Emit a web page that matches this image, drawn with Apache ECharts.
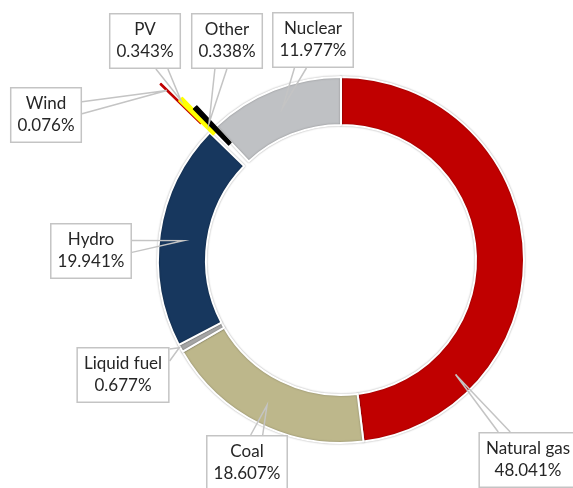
<!DOCTYPE html>
<html>
<head>
<meta charset="utf-8">
<script src="https://cdn.jsdelivr.net/npm/echarts@6/dist/echarts.min.js"></script>
<style>
html, body { margin: 0; padding: 0; background: #fff; }
#main { width: 573px; height: 488px; }
</style>
</head>
<body>
<div id="main"></div>
<script>
// share of generation by source (%), clockwise from 12 o'clock
var sources = ['Natural gas', 'Coal', 'Liquid fuel', 'Hydro', 'Wind', 'PV', 'Other', 'Nuclear']
var shares = [48.041, 18.607, 0.677, 19.941, 0.076, 0.343, 0.338, 11.977]
var colors = ['#c00000', '#bdb78b', '#a6a6a6', '#17375e', '#c00000', '#ffff00', '#000000', '#bfc1c4']

// tiny slices drawn pulled out of the ring, with their own radii
var pulled = {
    'Wind': [196, 252],
    'PV': [179, 227],
    'Other': [161, 211]
}

var CX = 341, CY = 260
var NONE = 'rgba(0,0,0,0)'
// callout box centre, pointer tip angle (deg clockwise from top) and tip radius
var callouts = {
    'Natural gas': [528, 460, 135, 162],
    'Coal': [247, 463, 207, 163],
    'Liquid fuel': [123, 375, 241.5, 184],
    'Hydro': [91, 251, 277, 159],
    'Wind': [46, 115, 314.2, 243],
    'PV': [145, 41, 314.9, 226],
    'Other': [227, 41, 316, 190],
    'Nuclear': [313, 40, 339, 163]
}

function calloutLine(name, w, h) {
    var c = callouts[name]
    var a = c[2] * Math.PI / 180
    var tip = [CX + c[3] * Math.sin(a), CY - c[3] * Math.cos(a)]
    var dx = tip[0] - c[0], dy = tip[1] - c[1]
    var l = c[0] - w / 2, r = c[0] + w / 2, t = c[1] - h / 2, b = c[1] + h / 2
    var half = 6
    var p1, p2
    if (Math.abs(dx) * h > Math.abs(dy) * w) {
        var ex = dx > 0 ? r : l
        var ey = c[1] + dy * (w / 2) / Math.abs(dx)
        ey = Math.min(Math.max(ey, t + half + 2), b - half - 2)
        p1 = [ex, ey - half]; p2 = [ex, ey + half]
    } else {
        var ey2 = dy > 0 ? b : t
        var ex2 = c[0] + dx * (h / 2) / Math.abs(dy)
        ex2 = Math.min(Math.max(ex2, l + half + 2), r - half - 2)
        p1 = [ex2 - half, ey2]; p2 = [ex2 + half, ey2]
    }
    return [p1, tip, p2]
}

var myChart = echarts.init(document.getElementById('main'))

// the ring itself; pulled slices leave a gap
var series = [{
    type: 'pie',
    center: [CX, CY],
    radius: [135, 183],
    startAngle: 90,
    clockwise: true,
    silent: true,
    z: 2,
    label: { show: false },
    labelLine: { show: false },
    data: sources.map(function (name, i) {
        var isPulled = !!pulled[name]
        return {
            name: name,
            value: shares[i],
            itemStyle: {
                color: isPulled ? NONE : colors[i],
                borderColor: isPulled ? NONE : '#fff',
                borderWidth: 2,
                shadowBlur: isPulled ? 0 : 2,
                shadowColor: 'rgba(0,0,0,0.3)'
            }
        }
    })
}]

// pulled out slivers
Object.keys(pulled).forEach(function (target) {
    series.push({
        type: 'pie',
        center: [CX, CY],
        radius: pulled[target],
        startAngle: 90,
        clockwise: true,
        silent: true,
        z: 3,
        label: { show: false },
        labelLine: { show: false },
        data: sources.map(function (name, i) {
            var on = name === target
            return {
                name: name,
                value: shares[i],
                itemStyle: {
                    color: on ? colors[i] : NONE,
                    borderColor: on ? colors[i] : NONE,
                    borderWidth: on ? 1.5 : 0
                }
            }
        })
    })
})

// invisible copy on top that carries the callouts
series.push({
    type: 'pie',
    center: [CX, CY],
    radius: [135, 183],
    startAngle: 90,
    clockwise: true,
    avoidLabelOverlap: false,
    silent: true,
    z: 5,
    itemStyle: { color: NONE, borderWidth: 0 },
    data: sources.map(function (name, i) {
        return { name: name, value: shares[i] }
    }),
    label: {
        show: true,
        position: 'outside',
        formatter: function (p) {
            return p.name + '\n' + p.value.toFixed(3) + '%'
        },
        fontFamily: 'Lato',
        fontSize: 17,
        color: '#262626',
        lineHeight: 22,
        align: 'center',
        backgroundColor: '#fff',
        borderColor: '#c4c4c4',
        borderWidth: 1.5,
        padding: [5, 6, 4, 6]
    },
    labelLine: { show: true, lineStyle: { color: '#c4c4c4', width: 1.5 } },
    labelLayout: function (params) {
        var name = sources[params.dataIndex]
        var c = callouts[name]
        return {
            x: c[0],
            y: c[1],
            align: 'center',
            verticalAlign: 'middle',
            labelLinePoints: calloutLine(name, params.labelRect.width, params.labelRect.height)
        }
    }
})

myChart.setOption({
    backgroundColor: '#fff',
    animation: false,
    series: series
})
</script>
</body>
</html>
